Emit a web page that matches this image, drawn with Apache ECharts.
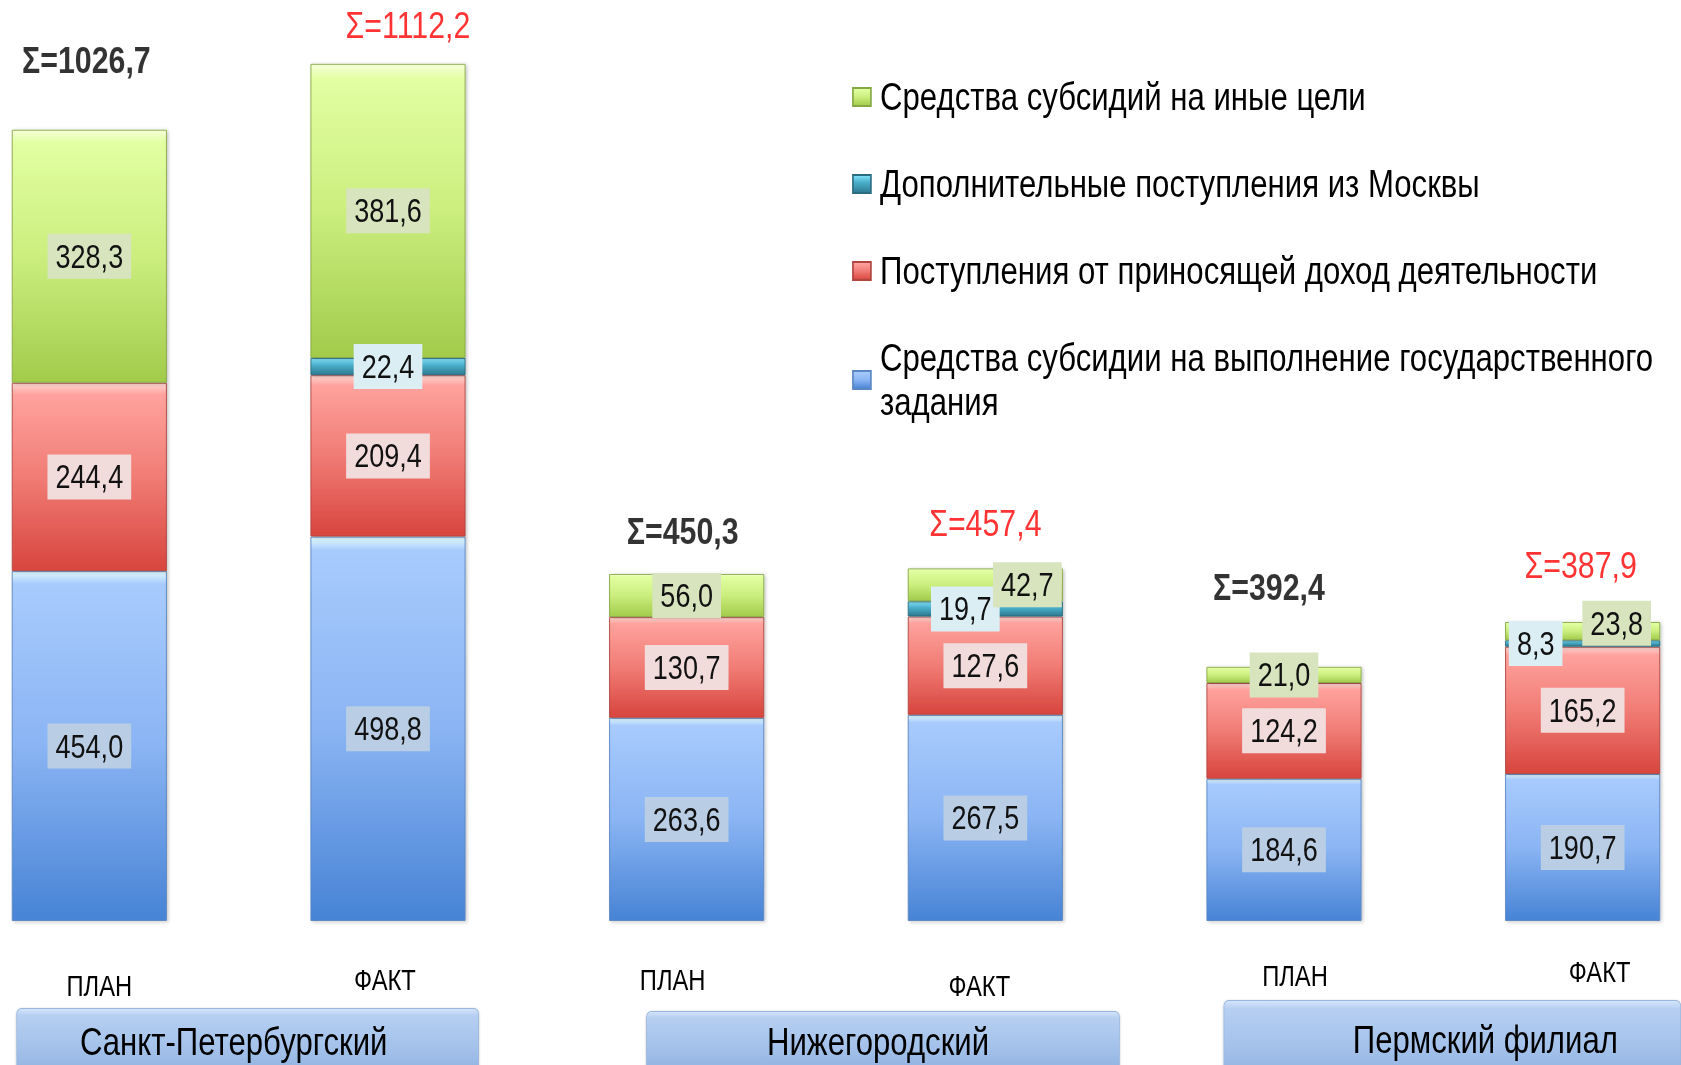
<!DOCTYPE html>
<html>
<head>
<meta charset="utf-8">
<script src="https://cdn.jsdelivr.net/npm/echarts@6/dist/echarts.min.js"></script>
<style>
html,body{margin:0;padding:0;background:#ffffff;overflow:hidden;width:1681px;height:1065px;}
#wrap{width:1681px;height:1065px;overflow:hidden;position:relative;}
#chart{position:absolute;left:0;top:0;height:1065px;transform-origin:0 0;}
</style>
</head>
<body>
<div id="wrap"><div id="chart"></div></div>
<script>
// ---------- DATA ----------
const categories = ['ПЛАН', 'ФАКТ', 'ПЛАН', 'ФАКТ', 'ПЛАН', 'ФАКТ'];
const groups = ['Санкт-Петербургский', 'Нижегородский', 'Пермский филиал'];
const seriesNames = [
  'Средства субсидии на выполнение государственного задания',
  'Поступления от приносящей доход деятельности',
  'Дополнительные поступления из Москвы',
  'Средства субсидий на иные цели'
];
const stateTask      = [454.0, 498.8, 263.6, 267.5, 184.6, 190.7];
const incomeActivity = [244.4, 209.4, 130.7, 127.6, 124.2, 165.2];
const moscowExtra    = [null, 22.4, null, 19.7, null, 8.3];
const otherSubsidies = [328.3, 381.6, 56.0, 42.7, 21.0, 23.8];
const totalLabels    = ['1026,7', '1112,2', '450,3', '457,4', '392,4', '387,9'];

// ---------- LAYOUT / STYLE ----------
// The original uses a condensed (Arial Narrow-like) face; the chart is drawn
// in a wider space and squeezed horizontally to reproduce that.
const S = 0.82;
const CW = 1681 / S;
const X = v => v / S;
const el = document.getElementById('chart');
el.style.width = CW + 'px';
el.style.transform = 'scaleX(' + S + ')';

const FONT = "'Liberation Sans', Arial, sans-serif";
const grad = (stops) => ({type:'linear', x:0, y:0, x2:0, y2:1,
  colorStops: stops.map(c => ({offset: c[0], color: c[1]}))});

const seriesStyles = [
  {fill: grad([[0,'#e2fbff'],[0.035,'#a8cbfd'],[0.5,'#8ab4f3'],[1,'#4783d5']]), border:'#5a86c2', labelBg:'#b9cde5'},
  {fill: grad([[0,'#ffd8d4'],[0.06,'#ffa29d'],[0.5,'#f07c75'],[1,'#d8453e']]), border:'#b04540', labelBg:'#f2dcdb'},
  {fill: grad([[0,'#86e6fb'],[0.4,'#4bb0cc'],[1,'#2c7a8f']]), border:'#2a6d80', labelBg:'#dbeef4'},
  {fill: grad([[0,'#f6ffd8'],[0.05,'#e2ffa2'],[0.5,'#cbee7e'],[1,'#a2cb4b']]), border:'#86a844', labelBg:'#d7e4bd'}
];
// label shifts (reference px) for crowded small segments: dataIndex -> [dx, dy]
const labelShift = [
  {},
  {},
  {3: [-20, 0], 5: [-47, 0]},
  {3: [42, 0], 5: [34, -8]}
];
// total label placement relative to bar top (reference px)
const totalShift = [[-3,-70],[20,-39],[-4,-43],[0,-46],[-15,-80],[-2,-57]];
const totalColors = ['#000000', '#ff0000', '#000000', '#ff0000', '#000000', '#ff0000'];
// category label shifts (reference px) [dx, dy]
const catLabelShift = [[10, 14], [-3, 8], [-14, 8], [-6, 14], [11, 4], [17, 0]];
// group box: [box centre shift, box width, text shift inside box, box top shift, box height]
const groupBox = [[9, 461, -14, 8, 66], [47, 472, -5, 11, 60], [19, 456, 33, 0, 78]];

const fmt = v => v == null ? '' : v.toFixed(1).replace('.', ',');
const valueSets = [stateTask, incomeActivity, moscowExtra, otherSubsidies];
const totals = categories.map((_, i) => valueSets.reduce((s, arr) => s + (arr[i] || 0), 0));

const barSeries = valueSets.map((arr, si) => ({
  name: seriesNames[si],
  type: 'bar',
  stack: 'total',
  xAxisIndex: 0, yAxisIndex: 0,
  barWidth: X(155),
  itemStyle: {
    color: seriesStyles[si].fill,
    borderColor: seriesStyles[si].border,
    borderWidth: 1,
    shadowColor: 'rgba(0,0,0,0.22)', shadowBlur: 4, shadowOffsetX: 2, shadowOffsetY: 1
  },
  label: {
    show: true, position: 'inside',
    formatter: p => fmt(p.value),
    fontFamily: FONT, fontSize: 33, color: '#111',
    backgroundColor: seriesStyles[si].labelBg,
    padding: [5, X(8), 2, X(8)], lineHeight: 38
  },
  emphasis: {disabled: true},
  data: arr.map((v, i) => {
    const sh = labelShift[si][i];
    return sh ? {value: v, label: {offset: [X(sh[0]), sh[1]]}} : v;
  })
}));

const totalSeries = {
  type: 'scatter',
  xAxisIndex: 0, yAxisIndex: 0,
  symbolSize: 1,
  silent: true,
  itemStyle: {color: 'rgba(0,0,0,0)'},
  label: {
    show: true, position: 'inside',
    fontFamily: FONT, fontSize: 37,
    formatter: p => 'Σ=' + totalLabels[p.dataIndex]
  },
  data: totals.map((t, i) => ({
    value: t,
    label: {
      offset: [X(totalShift[i][0]), totalShift[i][1]],
      color: totalColors[i],
      fontWeight: i % 2 === 0 ? 'bold' : 'normal'
    }
  }))
};

const boxBg = grad([[0,'#d3e4fa'],[0.1,'#b6cff1'],[0.6,'#a3c1ea'],[1,'#90b2e0']]);
const groupRich = {};
groups.forEach((g, i) => {
  const [shift, w, tshift, dy, h] = groupBox[i];
  const textW = 330;
  const padL = (w - textW) / 2 + tshift;
  const padR = w - textW - padL;
  groupRich['g' + i] = {width: 1, height: dy, lineHeight: dy};
  groupRich['sl' + i] = {width: X(Math.max(0, 2 * shift)), height: h};
  groupRich['sr' + i] = {width: X(Math.max(0, -2 * shift)), height: h};
  groupRich['t' + i] = {
    width: X(textW), height: h, lineHeight: h, align: 'center',
    padding: [0, X(padR), 0, X(padL)],
    backgroundColor: boxBg, borderColor: '#9ab6dc', borderWidth: 1, borderRadius: 5,
    shadowColor: 'rgba(0,0,0,0.25)', shadowBlur: 3, shadowOffsetY: 1,
    fontFamily: FONT, fontSize: 38, color: '#000'
  };
});

const gridBox = {left: X(-60), right: X(-51), top: 0, bottom: 144, outerBoundsMode: 'none', containLabel: false};

const chart = echarts.init(el, null, {renderer: 'svg', width: CW, height: 1065});
chart.setOption({
  backgroundColor: '#ffffff',
  animation: false,
  legend: {
    orient: 'vertical',
    left: X(848), top: 70,
    itemWidth: X(18), itemHeight: 18,
    itemGap: 43,
    icon: 'rect',
    data: [seriesNames[3], seriesNames[2], seriesNames[1], seriesNames[0]],
    formatter: n => n === seriesNames[0] ? 'Средства субсидии на выполнение государственного\nзадания' : n,
    textStyle: {fontFamily: FONT, fontSize: 38, color: '#000', lineHeight: 44, padding: [0, 0, 0, X(5)]},
    selectedMode: false
  },
  grid: [Object.assign({}, gridBox), Object.assign({}, gridBox)],
  xAxis: [
    {
      type: 'category', gridIndex: 0,
      data: categories.map((c, i) => {
        const s = catLabelShift[i];
        const pad = s[0] >= 0 ? [s[1], 0, 0, X(2 * s[0])] : [s[1], X(-2 * s[0]), 0, 0];
        return {value: c, textStyle: {padding: pad}};
      }),
      axisLine: {show: false}, axisTick: {show: false},
      axisLabel: {margin: 37, fontFamily: FONT, fontSize: 29, color: '#000', lineHeight: 29, interval: 0}
    },
    {
      type: 'category', gridIndex: 1,
      data: groups,
      axisLine: {show: false}, axisTick: {show: false},
      axisLabel: {
        margin: 80, interval: 0,
        formatter: (v, i) => (groupBox[i][3] > 0 ? '{g' + i + '|}\n' : '') +
          '{sl' + i + '|}{t' + i + '|' + v + '}{sr' + i + '|}',
        rich: groupRich
      }
    }
  ],
  yAxis: [
    {type: 'value', gridIndex: 0, min: 0, max: 1195, show: false, splitLine: {show: false}},
    {type: 'value', gridIndex: 1, min: 0, max: 1195, show: false, splitLine: {show: false}}
  ],
  series: barSeries.concat([totalSeries])
});
</script>
</body>
</html>
